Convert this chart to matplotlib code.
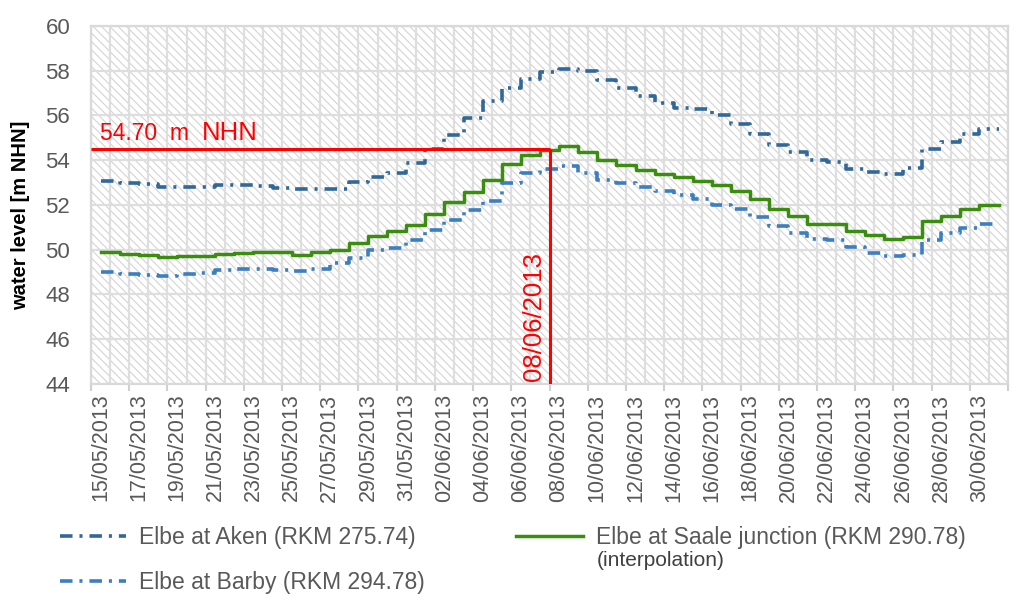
import matplotlib
matplotlib.use("Agg")
import matplotlib.pyplot as plt
from matplotlib.patches import Rectangle
import numpy as np
import pandas as pd

plt.rcParams['font.family'] = ['Liberation Sans', 'DejaVu Sans']
plt.rcParams['lines.scale_dashes'] = False
plt.rcParams['hatch.linewidth'] = 0.8

# === Data: one value per day, 15/05/2013 .. 01/07/2013 ===
days = pd.date_range("2013-05-15", "2013-07-01", freq="D")
day_labels = [d.strftime("%d/%m/%Y") for d in days]
tick_labels = day_labels[:-1:2]

aken = [53.07, 52.98, 52.92, 52.82, 52.80, 52.82, 52.88, 52.88, 52.86, 52.78,
        52.73, 52.70, 52.72, 53.03, 53.27, 53.45, 53.87, 54.48, 55.15, 55.90,
        56.66, 57.25, 57.65, 57.95, 58.08, 57.98, 57.60, 57.25, 56.88, 56.58,
        56.35, 56.28, 56.00, 55.62, 55.18, 54.66, 54.39, 54.00, 53.92, 53.60,
        53.48, 53.40, 53.67, 54.52, 54.80, 55.17, 55.40, 55.40]
barby = [49.02, 48.93, 48.89, 48.84, 48.93, 48.95, 49.10, 49.14, 49.16, 49.10,
         49.04, 49.12, 49.42, 49.65, 49.98, 50.08, 50.45, 50.90, 51.35, 51.78,
         52.20, 53.00, 53.44, 53.62, 53.72, 53.44, 53.12, 53.00, 52.80, 52.62,
         52.44, 52.25, 52.00, 51.83, 51.45, 51.05, 50.76, 50.46, 50.42, 50.10,
         49.85, 49.71, 49.75, 50.45, 50.73, 50.96, 51.15, np.nan]
saale = [49.89, 49.80, 49.77, 49.66, 49.74, 49.72, 49.83, 49.86, 49.92, 49.90,
         49.78, 49.89, 50.00, 50.30, 50.60, 50.83, 51.10, 51.58, 52.13, 52.60,
         53.12, 53.82, 54.24, 54.45, 54.65, 54.36, 54.02, 53.80, 53.57, 53.39,
         53.24, 53.06, 52.88, 52.62, 52.25, 51.80, 51.53, 51.16, 51.13, 50.83,
         50.64, 50.49, 50.56, 51.28, 51.53, 51.83, 52.01, 52.01]

series_names = ["Elbe at Aken (RKM 275.74)",
                "Elbe at Barby (RKM 294.78)",
                "Elbe at Saale junction (RKM 290.78)"]

peak_level = 54.52
peak_text = "54.70"
peak_day = "08/06/2013"

# === Figure ===
fig = plt.figure(figsize=(10.19, 6.07), dpi=100)
ax = fig.add_axes([0.0893, 0.3674, 0.9, 0.5898])

x = np.arange(len(days)) + 0.5
ax.set_xlim(0, len(days))
ax.set_ylim(44, 60)

# hatched plot area
ax.add_patch(Rectangle((0, 0), 1, 1, transform=ax.transAxes, facecolor='white',
                       edgecolor='#D4D4D4', hatch='\\\\\\\\', linewidth=0, zorder=0))

dashdot = (0, (9, 5, 2.2, 5))
aken_line, = ax.step(x, aken, where='post', color='#31689A', lw=2.6,
                     linestyle=dashdot, zorder=3)
barby_line, = ax.step(x, barby, where='post', color='#3B7FC0', lw=2.6,
                      linestyle=dashdot, zorder=3)
saale_line, = ax.step(x, saale, where='post', color='#3A8D0E', lw=2.5, zorder=3)

# marker lines for the peak
i_peak = day_labels.index(peak_day)
ax.plot([0, i_peak], [peak_level, peak_level], color='#FF0000', lw=2.2, zorder=4,
        solid_capstyle='butt')
ax.plot([i_peak, i_peak], [44, peak_level], color='#FF0000', lw=2.2, zorder=4,
        solid_capstyle='butt')
ax.text(0.47, 54.9, peak_text + "  m", color='#FF0000', fontsize=16.5,
        va='baseline', ha='left', zorder=5)
ax.text(5.8, 54.9, "NHN", color='#FF0000', fontsize=18.5,
        va='baseline', ha='left', zorder=5)
ax.text(i_peak - 0.2, 44.15, peak_day, color='#FF0000', fontsize=18.5,
        rotation=90, ha='right', va='bottom', zorder=5)

# === Axes styling ===
ax.set_xticks(np.arange(0, len(days) + 1))
ax.set_xticklabels([])
for i, t in enumerate(ax.xaxis.get_major_ticks()):
    t.tick1line.set_visible(i % 2 == 0)
ax.set_xticks(np.arange(0, len(days) - 1, 2) + 0.5, tick_labels, minor=True)
ax.tick_params(axis='x', which='major', length=5, width=1.5, color='#D0D0D0',
               direction='out')
ax.tick_params(axis='x', which='minor', length=0, pad=7, labelsize=15.5,
               labelcolor='#595959', labelrotation=90)

ax.set_yticks(np.arange(44, 61, 2))
ax.tick_params(axis='y', length=0, pad=15, labelsize=16, labelcolor='#595959')

ax.grid(True, which='major', color='#DEDEDE', lw=1.6)
ax.set_axisbelow(True)
for s in ax.spines.values():
    s.set_color('#D9D9D9')
    s.set_linewidth(1.6)

ax.set_ylabel("water level [m NHN]", fontsize=14.5, fontweight='bold', color='black')
ax.yaxis.set_label_coords(-0.066, 0.47)

# === Legend ===
fig.legend([aken_line, barby_line, saale_line], series_names, ncol=2,
           loc='upper left', bbox_to_anchor=(0.0589, 0.1335), frameon=False,
           fontsize=16.5, labelcolor='#595959', handlelength=2.9, handletextpad=0.55,
           columnspacing=4.0, labelspacing=0.95, borderpad=0, borderaxespad=0)
fig.text(597 / 1019, 1 - 560 / 607, "(interpolation)", fontsize=15,
         color='#404040', va='center', ha='left')

fig.savefig("out.png", dpi=100)
